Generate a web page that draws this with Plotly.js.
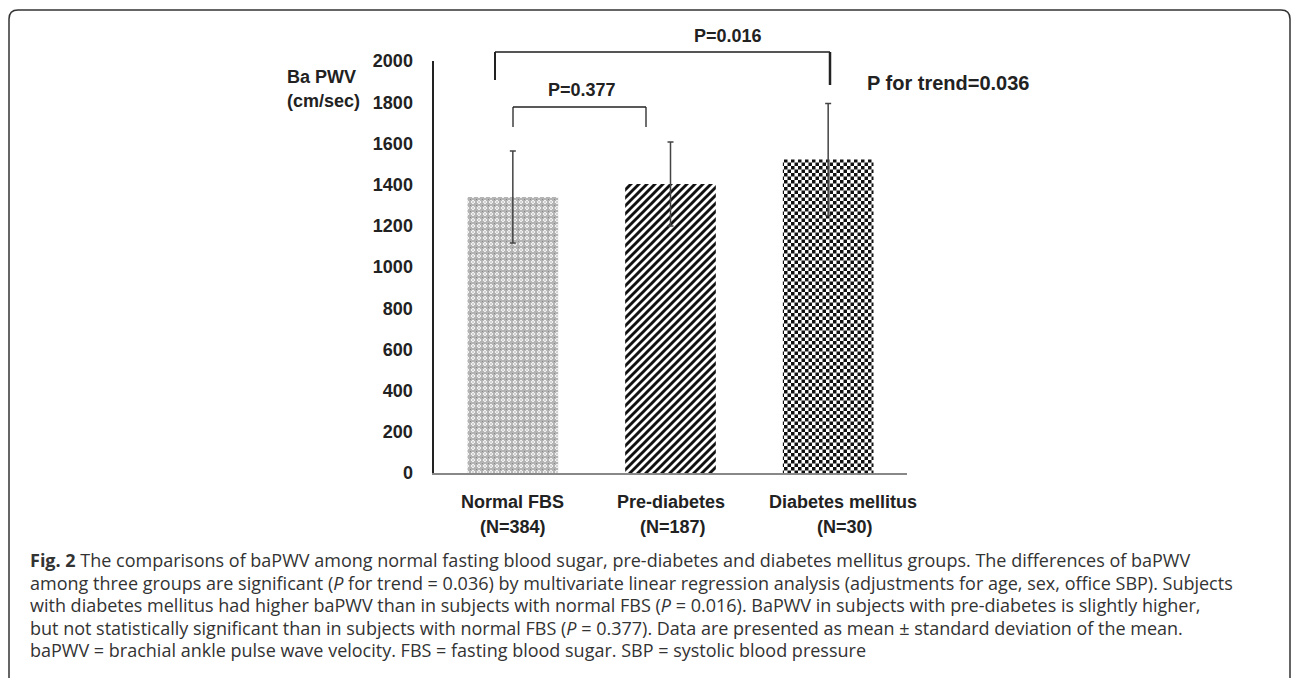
<!DOCTYPE html>
<html><head><meta charset="utf-8">
<script src="https://cdn.plot.ly/plotly-3.0.1.min.js"></script>
<style>html,body{margin:0;padding:0;background:#fff}#chart{width:1292px;height:678px}</style>
</head><body><div id="chart"></div>
<script>
// ---- data ----
const categories = ['Normal FBS', 'Pre-diabetes', 'Diabetes mellitus'];
const groupN = ['(N=384)', '(N=187)', '(N=30)'];
const meanBaPWV = [1340, 1403, 1522];
const sdBaPWV = [223, 204, 272];
const yTickVals = [0, 200, 400, 600, 800, 1000, 1200, 1400, 1600, 1800, 2000];
const yTitleLines = ['Ba PWV', '(cm/sec)'];
const pTexts = ['P=0.377', 'P=0.016', 'P for trend=0.036'];
const captionLines = [
  '<b>Fig. 2</b> The comparisons of baPWV among normal fasting blood sugar, pre-diabetes and diabetes mellitus groups. The differences of baPWV',
  'among three groups are significant (<i>P</i> for trend = 0.036) by multivariate linear regression analysis (adjustments for age, sex, office SBP). Subjects',
  'with diabetes mellitus had higher baPWV than in subjects with normal FBS (<i>P</i> = 0.016). BaPWV in subjects with pre-diabetes is slightly higher,',
  'but not statistically significant than in subjects with normal FBS (<i>P</i> = 0.377). Data are presented as mean ± standard deviation of the mean.',
  'baPWV = brachial ankle pulse wave velocity. FBS = fasting blood sugar. SBP = systolic blood pressure'
];

// ---- geometry helpers (plot area in pixels) ----
const W = 1292, H = 678;
const L = 434, R = 907, T = 61, B = 473;
const pxX = px => (px - L) / (R - L);
const pxY = py => (B - py) / (B - T);

const chartFont = {family: 'Liberation Sans, Arial, sans-serif', size: 18, color: '#222', weight: 'bold'};
const capFont = {family: 'Open Sans, sans-serif', size: 18, color: '#333'};

const trace = {
  type: 'bar',
  x: [0, 1, 2],
  y: meanBaPWV,
  width: 0.575,
  marker: {
    color: ['#b5b5b5', '#ffffff', '#ffffff'],
    line: {width: 0},
    pattern: {
      shape: ['x', '/', 'x'],
      fgcolor: ['#ffffff', '#000000', '#000000'],
      bgcolor: ['#b5b5b5', '#ffffff', '#ffffff'],
      size: [5, 8, 7],
      solidity: [0.25, 0.5, 0.5],
      fillmode: 'overlay'
    }
  },
  error_y: {type: 'data', array: sdBaPWV, visible: true, color: '#444', thickness: 1.5, width: 3},
  hoverinfo: 'skip'
};

const annotations = [];
yTitleLines.forEach((t, i) => annotations.push({
  xref: 'paper', yref: 'paper', x: pxX(285), y: pxY(77 + i * 24),
  xanchor: 'left', yanchor: 'middle', showarrow: false, text: t, font: chartFont
}));
const nameShift = [0, 0, 15];
const nShift = [0, 2, 17];
categories.forEach((c, i) => {
  annotations.push({xref: 'x', yref: 'paper', x: i, y: pxY(502), xanchor: 'center', yanchor: 'middle',
    xshift: nameShift[i], showarrow: false, text: c, font: chartFont});
  annotations.push({xref: 'x', yref: 'paper', x: i, y: pxY(527), xanchor: 'center', yanchor: 'middle',
    xshift: nShift[i], showarrow: false, text: groupN[i], font: chartFont});
});
annotations.push({xref: 'paper', yref: 'paper', x: pxX(582), y: pxY(90), xanchor: 'center', yanchor: 'middle', showarrow: false, text: pTexts[0], font: chartFont});
annotations.push({xref: 'paper', yref: 'paper', x: pxX(728), y: pxY(36), xanchor: 'center', yanchor: 'middle', showarrow: false, text: pTexts[1], font: chartFont});
annotations.push({xref: 'paper', yref: 'paper', x: pxX(865), y: pxY(83), xanchor: 'left', yanchor: 'middle', showarrow: false, text: pTexts[2], font: Object.assign({}, chartFont, {size: 20})});
captionLines.forEach((t, i) => annotations.push({
  xref: 'paper', yref: 'paper', x: pxX(28), y: pxY(560 + i * 22.5),
  xanchor: 'left', yanchor: 'middle', showarrow: false, text: t, font: capFont
}));

const ln = (x0, y0, x1, y1, w, c) => ({type: 'line', xref: 'paper', yref: 'paper',
  x0: pxX(x0), y0: pxY(y0), x1: pxX(x1), y1: pxY(y1), line: {color: c || '#222', width: w || 1.5}});

const shapes = [
  ln(495, 52, 830, 52, 2, '#555'),
  ln(495, 52, 495, 80, 2, '#222'),
  ln(830, 52, 830, 85, 2.5, '#222'),
  ln(513, 107, 646, 107, 1.3, '#222'),
  ln(513, 107, 513, 127, 1.3, '#222'),
  ln(646, 107, 646, 127, 1.3, '#222'),
  {type: 'path', xref: 'paper', yref: 'paper', line: {color: '#333', width: 1.5},
   path: `M ${pxX(9)},${pxY(720)} L ${pxX(9)},${pxY(19)} Q ${pxX(9)},${pxY(10)} ${pxX(18)},${pxY(10)} L ${pxX(1281)},${pxY(10)} Q ${pxX(1290)},${pxY(10)} ${pxX(1290)},${pxY(19)} L ${pxX(1290)},${pxY(720)}`}
];

const layout = {
  width: W, height: H,
  margin: {l: L, r: W - R, t: T, b: H - B, pad: 0},
  paper_bgcolor: '#fff', plot_bgcolor: '#fff',
  showlegend: false,
  xaxis: {range: [-0.5, 2.5], showticklabels: false, ticks: '', showgrid: false, zeroline: false,
    showline: true, linecolor: '#888', linewidth: 1.5, fixedrange: true},
  yaxis: {range: [0, 2000], tickvals: yTickVals, ticks: '', showgrid: false, zeroline: false,
    showline: true, linecolor: '#222', linewidth: 2.5, tickfont: chartFont, ticklabelstandoff: 15, fixedrange: true},
  annotations: annotations,
  shapes: shapes
};

Plotly.newPlot('chart', [trace], layout, {displayModeBar: false, staticPlot: true}).then(gd => {
  // texture fills for the three Plotly-drawn bars
  const svg = gd.querySelector('svg.main-svg');
  const ns = 'http://www.w3.org/2000/svg';
  let defs = svg.querySelector('defs');
  if (!defs) { defs = document.createElementNS(ns, 'defs'); svg.insertBefore(defs, svg.firstChild); }
  const mk = (id, size, parts, lines) => {
    const p = document.createElementNS(ns, 'pattern');
    p.setAttribute('id', id); p.setAttribute('patternUnits', 'userSpaceOnUse');
    p.setAttribute('width', size); p.setAttribute('height', size);
    (parts || []).forEach(([x, y, w, h, f]) => {
      const r = document.createElementNS(ns, 'rect');
      r.setAttribute('x', x); r.setAttribute('y', y); r.setAttribute('width', w); r.setAttribute('height', h);
      r.setAttribute('fill', f); p.appendChild(r);
    });
    if (lines) {
      const pa = document.createElementNS(ns, 'path');
      pa.setAttribute('d', lines.d); pa.setAttribute('stroke', lines.c);
      pa.setAttribute('stroke-width', lines.w); pa.setAttribute('fill', 'none');
      p.appendChild(pa);
    }
    defs.appendChild(p);
  };
  mk('pat-normal', 6, [[0,0,6,6,'#b4b4b4'],[2,1,2,4,'#f2f2f2'],[1,2,4,2,'#f2f2f2'],[2.5,2.5,1,1,'#777'],[0,0,1,1,'#888']]);
  mk('pat-diag', 8, [[0,0,8,8,'#fff']], {d: 'M-2,2 L2,-2 M0,8 L8,0 M6,10 L10,6', c: '#111', w: 2.9});
  mk('pat-check', 7, [[0,0,7,7,'#fff'],[0,0,3.5,3.5,'#111'],[3.5,3.5,3.5,3.5,'#111']]);
  const bars = gd.querySelectorAll('.barlayer .point path');
  if (bars.length === 3) {
    bars[0].style.fill = 'url(#pat-normal)';
    bars[1].style.fill = 'url(#pat-diag)';
    bars[2].style.fill = 'url(#pat-check)';
  }
});
</script>
</body></html>
